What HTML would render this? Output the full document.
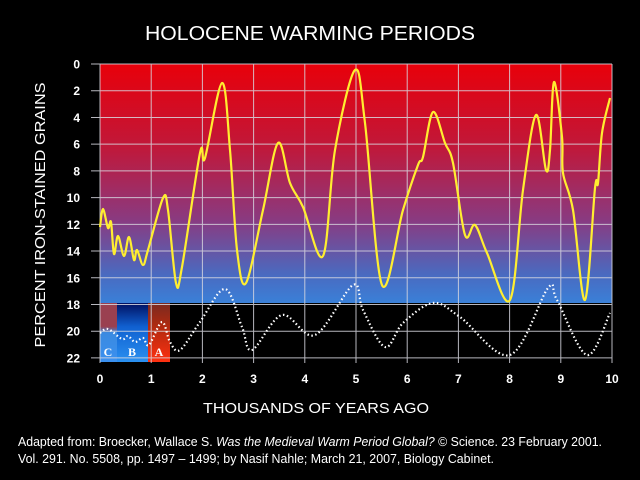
<!DOCTYPE html>
<html><head><meta charset="utf-8"><style>
html,body{margin:0;padding:0;background:#000;}
svg{display:block;}
text{fill:#fff;}
</style></head><body>
<svg width="640" height="480" viewBox="0 0 640 480" xmlns="http://www.w3.org/2000/svg" font-family="Liberation Sans, Arial, sans-serif">
<defs>
<linearGradient id="bg" x1="0" y1="0" x2="0" y2="1">
<stop offset="0" stop-color="#e8000a"/>
<stop offset="0.35" stop-color="#c0183a"/>
<stop offset="0.65" stop-color="#8a3a80"/>
<stop offset="0.88" stop-color="#4a6ac0"/>
<stop offset="1" stop-color="#3a80d8"/>
</linearGradient>
<linearGradient id="bc" x1="0" y1="0" x2="0" y2="1">
<stop offset="0" stop-color="#9a4050"/><stop offset="0.4" stop-color="#9a4050"/><stop offset="0.5" stop-color="#3a8ae0"/><stop offset="1" stop-color="#3a90f0"/>
</linearGradient>
<linearGradient id="bb" x1="0" y1="0" x2="0" y2="1">
<stop offset="0" stop-color="#001060"/><stop offset="0.4" stop-color="#1060d0"/><stop offset="1" stop-color="#2a90f0"/>
</linearGradient>
<linearGradient id="ba" x1="0" y1="0" x2="0" y2="1">
<stop offset="0" stop-color="#7a2a20"/><stop offset="0.4" stop-color="#b02a10"/><stop offset="1" stop-color="#ff3010"/>
</linearGradient>
</defs>
<rect width="640" height="480" fill="#000"/>
<text x="145" y="40" font-size="20" textLength="330" lengthAdjust="spacingAndGlyphs">HOLOCENE WARMING PERIODS</text>
<rect x="100" y="64" width="512" height="239" fill="url(#bg)"/>
<rect x="100" y="303" width="17" height="59" fill="url(#bc)"/>
<rect x="117" y="303" width="31" height="59" fill="url(#bb)"/>
<rect x="148" y="303" width="22" height="59" fill="url(#ba)"/>
<g stroke="#d8d8e0" stroke-width="1" opacity="0.85" id="grid"></g>
<path id="yl" fill="none" stroke="#ffee30" stroke-width="2.2"/>
<path id="dl" fill="none" stroke="#fff" stroke-width="2.2" stroke-dasharray="1.5 2.5"/>
<g font-size="12" font-weight="bold" text-anchor="end" id="yt"></g>
<g font-size="12" font-weight="bold" text-anchor="middle" id="xt"></g>
<g style="font-family:'Liberation Serif',serif" font-size="12" font-weight="bold" text-anchor="middle">
<text x="108" y="356">C</text><text x="132" y="356">B</text><text x="159" y="356">A</text>
</g>
<text transform="translate(45,215) rotate(-90)" font-size="15" text-anchor="middle" textLength="265" lengthAdjust="spacingAndGlyphs">PERCENT IRON-STAINED GRAINS</text>
<text x="316" y="413" font-size="15" text-anchor="middle" textLength="226" lengthAdjust="spacingAndGlyphs">THOUSANDS OF YEARS AGO</text>
<text x="18" y="446" font-size="12.5" textLength="584" lengthAdjust="spacingAndGlyphs">Adapted from: Broecker, Wallace S. <tspan font-style="italic">Was the Medieval Warm Period Global?</tspan> © Science. 23 February 2001.</text>
<text x="18" y="463" font-size="12.5" textLength="476" lengthAdjust="spacingAndGlyphs">Vol. 291. No. 5508, pp. 1497 – 1499; by Nasif Nahle; March 21, 2007, Biology Cabinet.</text>
</svg>
<script>
var NS="http://www.w3.org/2000/svg";
function el(p,t,a,txt){var e=document.createElementNS(NS,t);for(var k in a)e.setAttribute(k,a[k]);if(txt!==undefined)e.textContent=txt;p.appendChild(e);}
var g=document.getElementById('grid');
for(var i=0;i<=10;i++){var x=100+51.2*i;el(g,'line',{x1:x,y1:64,x2:x,y2:363});}
for(var j=0;j<=22;j+=2){var y=64+13.36*j;el(g,'line',{x1:91,y1:y,x2:612,y2:y});}
var yt=document.getElementById('yt');
for(var j=0;j<=22;j+=2){el(yt,'text',{x:80,y:64+13.36*j+4.5},String(j));}
var xt=document.getElementById('xt');
for(var i=0;i<=10;i++){el(xt,'text',{x:100+51.2*i,y:383},String(i));}
function cr(p){var d="M"+p[0][0]+","+p[0][1];for(var i=0;i<p.length-1;i++){var p0=p[i-1]||p[i],p1=p[i],p2=p[i+1],p3=p[i+2]||p2;
d+=" C"+(p1[0]+(p2[0]-p0[0])/6)+","+(p1[1]+(p2[1]-p0[1])/6)+" "+(p2[0]-(p3[0]-p1[0])/6)+","+(p2[1]-(p3[1]-p1[1])/6)+" "+p2[0]+","+p2[1];}return d;}
var Y=[[100,227],[103,209],[108,228],[111,222],[114,254],[118,236],[124,256],[129,237],[134,260],[137,250],[143,265],[148,250],[163,198],[168,210],[176,283],[182,267],[200,153],[205,158],[222,83],[230,150],[237,250],[246,283],[263,210],[278,143],[290,183],[303,207],[323,256],[335,150],[355,70],[365,123],[382,285],[403,210],[418,165],[423,157],[433,112],[445,143],[453,163],[465,235],[475,225],[487,253],[510,300],[523,190],[536,115],[546,170],[550,150],[554,82],[562,137],[563,173],[573,210],[585,300],[595,188],[598,183],[602,133],[610,98]];
var D=[[100,333],[108,329],[122,339],[128,336],[135,342],[143,338],[149,345],[162,322],[170,342],[180,350],[200,322],[225,289],[242,327],[252,350],[282,315],[315,335],[353,285],[363,310],[385,347],[403,323],[433,303],[460,317],[510,355],[548,288],[557,300],[587,355],[610,313]];
document.getElementById('yl').setAttribute('d',cr(Y));
document.getElementById('dl').setAttribute('d',cr(D));
</script>
</body></html>
